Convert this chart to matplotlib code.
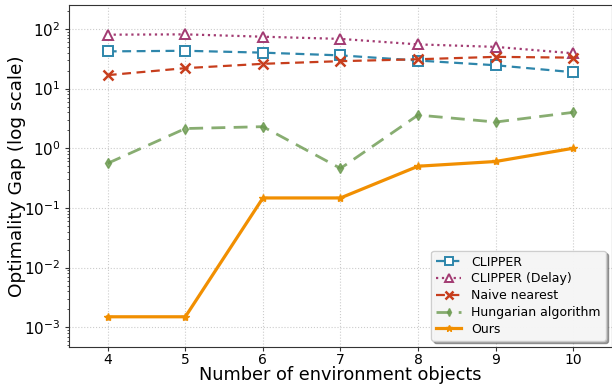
import matplotlib
matplotlib.use("Agg")
import matplotlib.pyplot as plt
import numpy as np

x = [4, 5, 6, 7, 8, 9, 10]
clipper = [42, 43, 40, 36, 29.5, 24.6, 18.8]
clipper_delay = [80, 81, 74, 68, 55, 50, 39]
naive = [16.8, 22, 26, 28.8, 31, 34, 33]
hungarian = [0.56, 2.14, 2.3, 0.46, 3.6, 2.75, 4.0]
ours = [0.0015, 0.0015, 0.147, 0.147, 0.5, 0.6, 1.0]

fig = plt.figure(figsize=(6.12, 3.87), dpi=100)
ax = fig.add_axes([0.1127, 0.1034, 0.8873, 0.8836])

ax.plot(x, clipper, linestyle=(0, (4, 2.5)), color='#2E86AB', marker='s', markersize=6.5,
        markerfacecolor='white', markeredgewidth=1.4, linewidth=1.6, label='CLIPPER')
ax.plot(x, clipper_delay, linestyle=':', color='#A23B72', marker='^', markersize=7.5,
        markerfacecolor='white', markeredgewidth=1.4, linewidth=1.6, label='CLIPPER (Delay)')
ax.plot(x, naive, linestyle=(0, (4, 2.5)), color='#C73E1D', marker='x', markersize=7,
        markeredgewidth=1.8, linewidth=1.6, label='Naive nearest')
ax.plot(x, hungarian, linestyle=(0, (5, 3)), color='#6A994E', alpha=0.8, marker='d', markersize=5,
        linewidth=2, label='Hungarian algorithm')
ax.plot(x, ours, linestyle='-', color='#F18F01', marker='*', markersize=6,
        linewidth=2.3, label='Ours')

ax.set_yscale('log')
ax.set_xlim(3.5, 10.5)
ax.set_ylim(10**-3.33, 10**2.4)
ax.set_xticks(x)
ax.tick_params(axis='x', which='major', labelsize=10, length=3, pad=1.5, color='#333333')
ax.tick_params(axis='y', which='major', labelsize=11, length=3, pad=3, color='#333333')
ax.tick_params(axis='y', which='minor', length=1.5, color='#333333')
ax.grid(True, which='major', linestyle=':', color='#cccccc', linewidth=0.8)
for s in ax.spines.values():
    s.set_color('#333333')
ax.set_xlabel('Number of environment objects', fontsize=12.8, va='center')
ax.set_ylabel('Optimality Gap (log scale)', fontsize=13.3, va='center')
ax.xaxis.set_label_coords(0.5, -0.082)
ax.yaxis.set_label_coords(-0.0955, 0.5)
leg = ax.legend(loc='lower right', fontsize=9, frameon=True, fancybox=True, shadow=True,
                framealpha=0.95, facecolor='#fafafa', edgecolor='#cccccc',
                labelspacing=0.3, handlelength=2.0, markerscale=0.8,
                borderaxespad=0.5, bbox_to_anchor=(1.0, 0.0))
fig.savefig('out.png', dpi=100)
